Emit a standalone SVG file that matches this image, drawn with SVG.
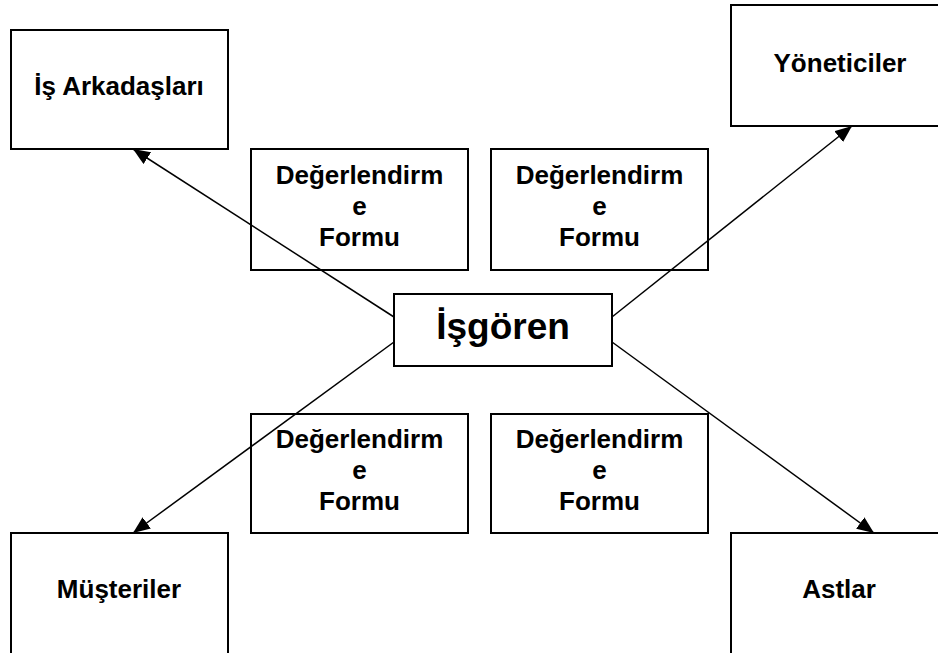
<svg xmlns="http://www.w3.org/2000/svg" width="938" height="653" viewBox="0 0 938 653">
<defs>
<marker id="arr" markerUnits="userSpaceOnUse" markerWidth="18" markerHeight="14" refX="17" refY="7" orient="auto">
<path d="M0,0 L17,7 L0,14 z" fill="#000"/>
</marker>
<style>
rect{fill:none;stroke:#000;stroke-width:2}
text{font-family:"Liberation Sans",Arial,sans-serif;font-weight:bold;fill:#000;text-anchor:middle}
.t{font-size:26px}
.f{font-size:26px}
.c{font-size:37px}
.conn line{stroke:#000;stroke-width:1.5;marker-end:url(#arr)}
</style>
</defs>
<rect x="0" y="0" width="938" height="653" style="stroke:none;fill:#fff"/>
<g id="isarkadaslari"><rect x="11" y="30" width="217" height="119"/><text class="t" x="119" y="95">İş Arkadaşları</text></g>
<g id="yoneticiler"><rect x="731" y="5" width="220" height="121"/><text class="t" x="840" y="72">Yöneticiler</text></g>
<g id="form1"><rect x="251" y="149" width="217" height="121"/><text class="f" x="359.5" y="184">Değerlendirm</text><text class="f" x="359.5" y="215">e</text><text class="f" x="359.5" y="246">Formu</text></g>
<g id="form2"><rect x="491" y="149" width="217" height="121"/><text class="f" x="599.5" y="184">Değerlendirm</text><text class="f" x="599.5" y="215">e</text><text class="f" x="599.5" y="246">Formu</text></g>
<g id="isgoren"><rect x="394" y="294" width="218" height="72"/><text class="c" x="503" y="339">İşgören</text></g>
<g id="form3"><rect x="251" y="414" width="217" height="119"/><text class="f" x="359.5" y="448">Değerlendirm</text><text class="f" x="359.5" y="479">e</text><text class="f" x="359.5" y="510">Formu</text></g>
<g id="form4"><rect x="491" y="414" width="217" height="119"/><text class="f" x="599.5" y="448">Değerlendirm</text><text class="f" x="599.5" y="479">e</text><text class="f" x="599.5" y="510">Formu</text></g>
<g id="musteriler"><rect x="11" y="533" width="217" height="130"/><text class="t" x="119" y="598">Müşteriler</text></g>
<g id="astlar"><rect x="731" y="533" width="220" height="130"/><text class="t" x="839" y="598">Astlar</text></g>
<g class="conn" id="connectors">
<line x1="394" y1="317" x2="133" y2="149"/>
<line x1="612" y1="317" x2="852" y2="126"/>
<line x1="394" y1="342" x2="133" y2="533"/>
<line x1="612" y1="342" x2="874" y2="533"/>
</g>
</svg>
